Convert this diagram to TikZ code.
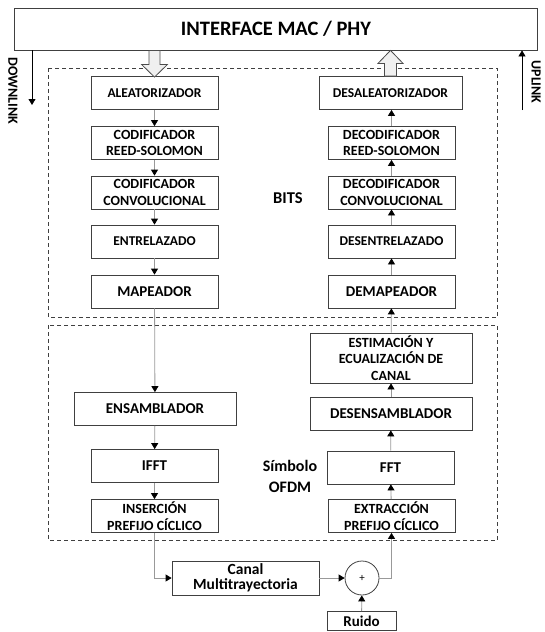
\documentclass[tikz,border=0pt]{standalone}
\usepackage{fontspec}
\setmainfont{Carlito}
\usetikzlibrary{arrows.meta,calc}

\begin{document}
\begin{tikzpicture}[x=1pt,y=-1pt,
  blk/.style={draw=black!75,line width=0.8pt,fill=white,minimum height=33pt,
    minimum width=127pt,inner sep=0.5pt,align=center,
    font=\fontsize{15}{16}\selectfont\bfseries},
  blkm/.style={blk,font=\fontsize{13.5}{16}\selectfont\bfseries},
  blks/.style={blk,font=\fontsize{14}{16.5}\selectfont\bfseries},
  conn/.style={draw=black!40,line width=0.8pt,
    -{Triangle[length=6pt,width=7pt,color=black]}},
  link/.style={draw=black,line width=0.8pt,
    -{Triangle[length=6pt,width=7pt]}},
  frame/.style={draw=black!75,line width=0.8pt,dash pattern=on 4pt off 3pt},
  hollow/.style={draw=black!70,line width=0.8pt,fill=black!6},
  lbl/.style={font=\fontsize{16.5}{21}\selectfont\bfseries,align=center}]

\useasboundingbox (0,0) rectangle (544,632);

\draw[frame] (48,68) rectangle (497.5,317);
\draw[frame] (48,325) rectangle (497.5,540);

\node[blk,minimum width=523pt,minimum height=42pt,
  font=\fontsize{20.5}{22}\selectfont\bfseries] (mac) at (276,29) {INTERFACE MAC / PHY};

% transmisor
\node[blkm] (alea) at (154.5,93) {ALEATORIZADOR};
\node[blks] (codrs) at (154.5,143) {CODIFICADOR\\REED-SOLOMON};
\node[blks] (codconv) at (154.5,192.5) {CODIFICADOR\\CONVOLUCIONAL};
\node[blkm] (entre) at (154.5,241.5) {ENTRELAZADO};
\node[blk] (mapea) at (154.5,291.5) {MAPEADOR};
\node[blk,minimum width=162pt] (ensam) at (155,409) {ENSAMBLADOR};
\node[blk] (ifft) at (154.5,466) {IFFT};
\node[blks] (inser) at (154.5,516) {INSERCIÓN\\PREFIJO CÍCLICO};

% receptor
\node[blkm,minimum width=143pt] (desalea) at (390.5,93) {DESALEATORIZADOR};
\node[blks] (decrs) at (391.5,143) {DECODIFICADOR\\REED-SOLOMON};
\node[blks] (decconv) at (391.5,192.5) {DECODIFICADOR\\CONVOLUCIONAL};
\node[blkm] (desent) at (391.5,241.5) {DESENTRELAZADO};
\node[blk] (demap) at (391.5,291.5) {DEMAPEADOR};
\node[blks,minimum width=162pt,minimum height=50pt] (estim) at (391,358)
  {ESTIMACIÓN Y\\ECUALIZACIÓN DE\\CANAL};
\node[blk,minimum width=162pt] (desens) at (391,413.5) {DESENSAMBLADOR};
\node[blk] (fft) at (390.5,467.5) {FFT};
\node[blks] (extrac) at (391.5,516) {EXTRACCIÓN\\PREFIJO CÍCLICO};

% canal
\node[blk,minimum width=147pt,minimum height=34pt,
  font=\fontsize{15.5}{15}\selectfont\bfseries] (canal) at (245.5,578) {Canal\\Multitrayectoria};
\node[draw=black!75,line width=0.8pt,circle,minimum size=34pt,inner sep=0pt,
  font=\fontsize{11}{11}\selectfont] (sum) at (362,578) {+};
\node[blk,minimum width=69pt,minimum height=19pt] (ruido) at (361.5,621) {Ruido};

\node[lbl] (bits) at (288,198) {BITS};
\node[lbl,font=\fontsize{16}{21}\selectfont\bfseries] (ofdm) at (290,476) {Símbolo\\OFDM};

% flechas
\draw[conn] (alea) -- (codrs);
\draw[conn] (codrs) -- (codconv);
\draw[conn] (codconv) -- (entre);
\draw[conn] (entre) -- (mapea);
\draw[conn] (mapea) -- (ensam);
\draw[conn] (ensam) -- (ifft);
\draw[conn] (ifft) -- (inser);
\draw[conn] (inser.south) |- (canal.west);
\draw[conn] (canal) -- (sum);
\draw[conn] (ruido) -- (sum);
\draw[conn] (sum.east) -| (extrac.south);
\draw[conn] (extrac) -- (fft);
\draw[conn] (fft) -- (desens);
\draw[conn] (desens) -- (estim);
\draw[conn] (estim) -- (demap);
\draw[conn] (demap) -- (desent);
\draw[conn] (desent) -- (decconv);
\draw[conn] (decconv) -- (decrs);
\draw[conn] (decrs.north) -- (decrs.north |- desalea.south);

% downlink / uplink
\coordinate (dl) at (32,105);
\coordinate (ul) at (522,110);
\draw[link] (mac.south -| dl) -- (dl);
\draw[link] (ul) -- (mac.south -| ul);
\node[lbl,rotate=-90,font=\fontsize{14}{15}\selectfont\bfseries] (down) at (13,91) {DOWNLINK};
\node[lbl,rotate=-90,font=\fontsize{14}{15}\selectfont\bfseries] (up) at (536,82) {UPLINK};

% flechas huecas
\coordinate (ha) at (mac.south -| alea.north);
\coordinate (hb) at (mac.south -| desalea.north);
\draw[hollow] ($(ha)+(-5.5,0)$) -- ++(0,14) -- ++(-7.5,0) -- ($(alea.north)+(0,1)$)
  -- ($(ha)+(13,14)$) -- ++(-7.5,0) -- ($(ha)+(5.5,0)$) -- cycle;
\draw[hollow] (hb) -- ++(12.5,13) -- ++(-6.5,0) -- (desalea.north -| {$(hb)+(6,0)$})
  -- (desalea.north -| {$(hb)+(-6,0)$}) -- ($(hb)+(-6,13)$) -- ++(-6.5,0) -- cycle;

\end{tikzpicture}
\end{document}
